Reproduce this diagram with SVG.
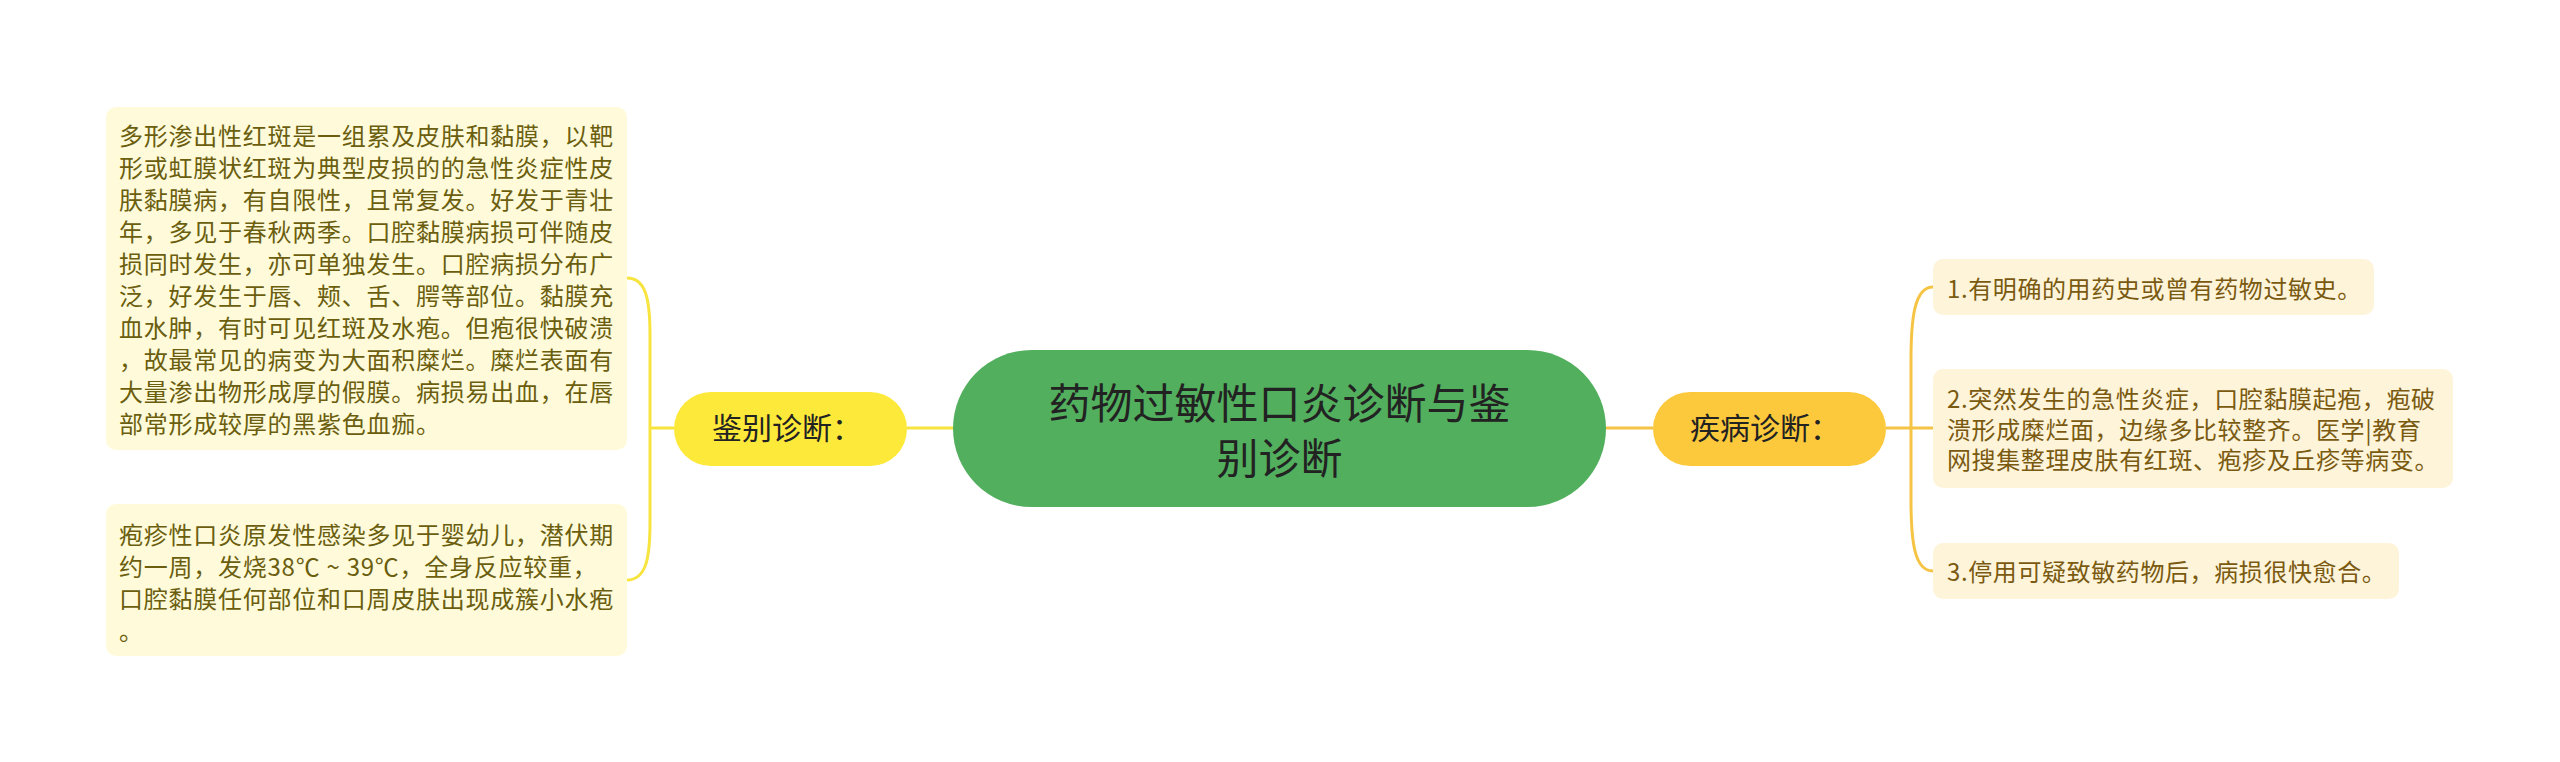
<svg xmlns="http://www.w3.org/2000/svg" width="2560" height="762" viewBox="0 0 2560 762">
<style>
text{font-family:"Noto Sans CJK SC","Noto Sans",sans-serif}
.lt{font-size:24px;fill:#6b5e0f;letter-spacing:0.75px}
.rt{font-size:24px;fill:#7a5a10;letter-spacing:0.6px}
.lbox{fill:#fffbda}
.rbox{fill:#fef4da}
.cl{fill:none;stroke:#f7e43f;stroke-width:3}
.cr{fill:none;stroke:#f6c445;stroke-width:3}
</style>
<rect width="2560" height="762" fill="#ffffff"/>
<g id="connectors">
<path class="cl" d="M907,428 L953,428"/>
<path class="cl" d="M650,428 L674,428"/>
<path class="cl" d="M627,278 C646,278 650,300 650,335 L650,523 C650,558 646,580 627,580"/>
<path class="cr" d="M1606,428 L1653,428"/>
<path class="cr" d="M1886,428 L1933,428"/>
<path class="cr" d="M1933,287 C1914,287 1911,320 1911,360 L1911,500 C1911,540 1914,571 1933,571"/>
</g>
<g id="root">
<rect x="953" y="350" width="653" height="157" rx="78.5" fill="#52af5e"/>
<text x="1279.5" y="419" text-anchor="middle" font-size="42" fill="#222222">药物过敏性口炎诊断与鉴</text>
<text x="1279.5" y="474" text-anchor="middle" font-size="42" fill="#222222">别诊断</text>
</g>
<g id="node-jianbie">
<rect x="674" y="392" width="233" height="74" rx="37" fill="#fde93a"/>
<text x="712" y="439" font-size="30" fill="#222222">鉴别诊断：</text>
</g>
<g id="node-jibing">
<rect x="1653" y="392" width="233" height="74" rx="37" fill="#fcc93c"/>
<text x="1690" y="439" font-size="30" fill="#222222">疾病诊断：</text>
</g>
<g id="leaf-left-1">
<rect class="lbox" x="106" y="107" width="521" height="343" rx="10"/>
<text class="lt" x="119" y="145">多形渗出性红斑是一组累及皮肤和黏膜，以靶</text>
<text class="lt" x="119" y="177">形或虹膜状红斑为典型皮损的的急性炎症性皮</text>
<text class="lt" x="119" y="209">肤黏膜病，有自限性，且常复发。好发于青壮</text>
<text class="lt" x="119" y="241">年，多见于春秋两季。口腔黏膜病损可伴随皮</text>
<text class="lt" x="119" y="273">损同时发生，亦可单独发生。口腔病损分布广</text>
<text class="lt" x="119" y="305">泛，好发生于唇、颊、舌、腭等部位。黏膜充</text>
<text class="lt" x="119" y="337">血水肿，有时可见红斑及水疱。但疱很快破溃</text>
<text class="lt" x="119" y="369">，故最常见的病变为大面积糜烂。糜烂表面有</text>
<text class="lt" x="119" y="401">大量渗出物形成厚的假膜。病损易出血，在唇</text>
<text class="lt" x="119" y="433">部常形成较厚的黑紫色血痂。</text>
</g>
<g id="leaf-left-2">
<rect class="lbox" x="106" y="504" width="521" height="152" rx="10"/>
<text class="lt" x="119" y="544">疱疹性口炎原发性感染多见于婴幼儿，潜伏期</text>
<text class="lt" x="119" y="576">约一周，发烧38℃ ~ 39℃，全身反应较重，</text>
<text class="lt" x="119" y="608">口腔黏膜任何部位和口周皮肤出现成簇小水疱</text>
<text class="lt" x="119" y="640">。</text>
</g>
<g id="leaf-right-1">
<rect class="rbox" x="1933" y="259" width="441" height="56" rx="10"/>
<text class="rt" x="1947" y="298">1.有明确的用药史或曾有药物过敏史。</text>
</g>
<g id="leaf-right-2">
<rect class="rbox" x="1933" y="369" width="520" height="119" rx="10"/>
<text class="rt" x="1947" y="408">2.突然发生的急性炎症，口腔黏膜起疱，疱破</text>
<text class="rt" x="1947" y="439">溃形成糜烂面，边缘多比较整齐。医学|教育</text>
<text class="rt" x="1947" y="469">网搜集整理皮肤有红斑、疱疹及丘疹等病变。</text>
</g>
<g id="leaf-right-3">
<rect class="rbox" x="1933" y="543" width="466" height="56" rx="10"/>
<text class="rt" x="1947" y="581">3.停用可疑致敏药物后，病损很快愈合。</text>
</g>
</svg>
